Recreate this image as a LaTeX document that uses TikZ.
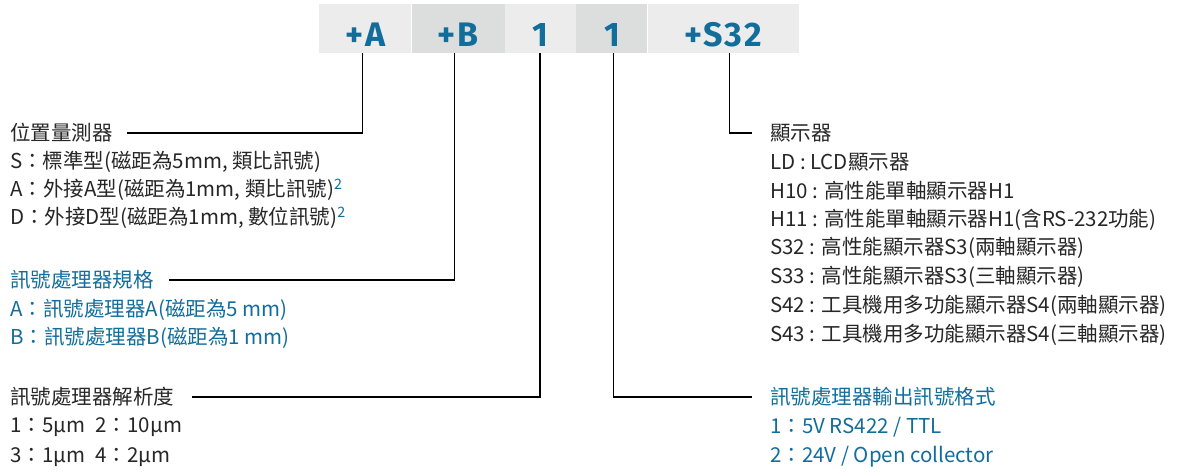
\documentclass[tikz,border=0pt]{standalone}
\usepackage{fontspec}
\setmainfont{Noto Sans CJK TC}
\newfontfamily\codefont{Fira Sans}[LetterSpace=6]
\usetikzlibrary{positioning}

\definecolor{hbblue}{HTML}{126D9B}
\definecolor{hbgraya}{HTML}{ECECEC}
\definecolor{hbgrayb}{HTML}{DCDEDD}
\definecolor{hbtext}{HTML}{262626}

\begin{document}
\begin{tikzpicture}[x=1pt, y=-1pt,
  code/.style={anchor=north west, inner sep=0pt, text height=42pt, text depth=7pt,
    font=\codefont\bfseries\fontsize{34}{34}\selectfont, text=hbblue},
  head/.style={anchor=west, inner sep=0pt, font=\fontsize{20.5}{24}\selectfont, text=hbtext},
  bluehead/.style={head, text=hbblue},
  lead/.style={line width=1.2pt, black}]
\useasboundingbox (0,0) rectangle (1184,472);

% order code
\node[code, fill=hbgraya, minimum width=92] (hdA) at (319,4) {+A};
\node[code, fill=hbgrayb, minimum width=93, right=0pt of hdA] (hdB) {+B};
\node[code, fill=hbgraya, minimum width=71, right=0pt of hdB] (hdRes) {1};
\node[code, fill=hbgrayb, minimum width=71, right=0pt of hdRes] (hdOut) {1};
\node[code, fill=hbgraya, minimum width=151, right=0pt of hdOut] (hdDisp) {+S32};

% left column
\node[head] (hMeas) at (10,133) {位置量測器};
\node[head] (mS) at (10,162) {S：標準型(磁距為5mm, 類比訊號)};
\node[head] (mA) at (10,190) {A：外接A型(磁距為1mm, 類比訊號)\textcolor{hbblue}{\textsuperscript{2}}};
\node[head] (mD) at (10,218) {D：外接D型(磁距為1mm, 數位訊號)\textcolor{hbblue}{\textsuperscript{2}}};

\node[bluehead] (hProc) at (10,280) {訊號處理器規格};
\node[bluehead] (pA) at (10,310) {A：訊號處理器A(磁距為5 mm)};
\node[bluehead] (pB) at (10,338) {B：訊號處理器B(磁距為1 mm)};

\node[head] (hRes) at (10,397) {訊號處理器解析度};
\node[head] (r12) at (10,427) {1：5µm\enspace 2：10µm};
\node[head] (r34) at (10,457) {3：1µm\enspace 4：2µm};

% right column
\node[head] (hDisp) at (770,133) {顯示器};
\node[head] (dLD) at (770,162) {LD : LCD顯示器};
\node[head] (dH10) at (770,191) {H10 : 高性能單軸顯示器H1};
\node[head] (dH11) at (770,220) {H11 : 高性能單軸顯示器H1(含RS-232功能)};
\node[head] (dS32) at (770,248) {S32 : 高性能顯示器S3(兩軸顯示器)};
\node[head] (dS33) at (770,277) {S33 : 高性能顯示器S3(三軸顯示器)};
\node[head] (dS42) at (770,306) {S42 : 工具機用多功能顯示器S4(兩軸顯示器)};
\node[head] (dS43) at (770,335) {S43 : 工具機用多功能顯示器S4(三軸顯示器)};

\node[bluehead] (hOut) at (770,397) {訊號處理器輸出訊號格式};
\node[bluehead] (o1) at (770,427) {1：5V RS422 / TTL};
\node[bluehead] (o2) at (770,457) {2：24V / Open collector};

% leaders
\draw[lead] ([xshift=-3pt]hdA.south) |- ([xshift=14pt]hMeas.east);
\draw[lead] ([xshift=-3.5pt]hdB.south) |- ([xshift=15pt]hProc.east);
\draw[lead] ([xshift=-0.5pt]hdRes.south) |- ([xshift=18pt]hRes.east);
\draw[lead] ([xshift=1.5pt]hdOut.south) |- ([xshift=-18pt]hOut.west);
\draw[lead] ([xshift=6.5pt]hdDisp.south) |- ([xshift=-18pt]hDisp.west);
\end{tikzpicture}
\end{document}
